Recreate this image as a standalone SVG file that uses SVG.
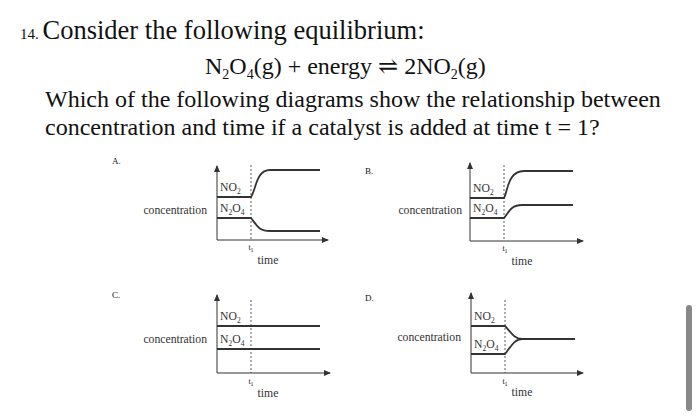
<svg xmlns="http://www.w3.org/2000/svg" width="700" height="416" viewBox="0 0 700 416">
<style>
text{font-family:"Liberation Serif","DejaVu Serif",serif;fill:#111}
.big{font-size:24px}
.s{font-size:11.7px;fill:#333}
.sub{font-size:7.5px}
.ax{stroke:#333;stroke-width:1;fill:none}
.dash{stroke:#333;stroke-width:0.8;stroke-dasharray:2,2;fill:none}
.ln{stroke:#333;stroke-width:1.8;fill:none}
</style>
<defs><marker id="ar" markerWidth="8" markerHeight="8" refX="6" refY="3" orient="auto" markerUnits="userSpaceOnUse"><path d="M0,0 L7,3 L0,6 Z" fill="#333"/></marker></defs>
<rect width="700" height="416" fill="#fff"/>
<text x="20" y="39" class="big" font-size="25.5"><tspan font-size="15">14. </tspan><tspan font-size="26.5">Consider the following equilibrium:</tspan></text>
<text x="205" y="74" class="big" font-size="24.5">N<tspan font-size="14" dy="5">2</tspan><tspan dy="-5">O</tspan><tspan font-size="14" dy="5">4</tspan><tspan dy="-5">(g) + energy </tspan><tspan>⇌</tspan> 2NO<tspan font-size="14" dy="5">2</tspan><tspan dy="-5">(g)</tspan></text>
<text x="45" y="107" class="big">Which of the following diagrams show the relationship between</text>
<text x="45" y="135" class="big">concentration and time if a catalyst is added at time t = 1?</text>
<g id="A">
<text x="112" y="164" font-size="9">A.</text>
<path class="ax" d="M217,240 V166" marker-end="url(#ar)"/><path class="ax" d="M217,240 H328" marker-end="url(#ar)"/>
<path class="dash" d="M251,165 V240"/>
<path class="ln" d="M217,197 H251 C256,190 256,170 270,170 H320"/>
<path class="ln" d="M217,218 H251 C256,224 258,231 270,231 H320"/>
<text x="220" y="191" class="s">NO<tspan class="sub" dy="3">2</tspan></text>
<text x="220" y="212" class="s">N<tspan class="sub" dy="3">2</tspan><tspan dy="-3">O</tspan><tspan class="sub" dy="3">4</tspan></text>
<text x="207" y="214" class="s" text-anchor="end">concentration</text>
<text x="251" y="250" font-size="8" fill="#333" text-anchor="middle">t<tspan font-size="6" dy="2">1</tspan></text>
<text x="268" y="264" class="s" text-anchor="middle">time</text>
</g>
<g id="B">
<text x="365" y="174" font-size="9">B.</text>
<path class="ax" d="M470,241 V163" marker-end="url(#ar)"/><path class="ax" d="M470,241 H583" marker-end="url(#ar)"/>
<path class="dash" d="M504,165 V241"/>
<path class="ln" d="M470,198 H504 C508,190 508,171 524,171 H573"/>
<path class="ln" d="M470,218 H504 C508,214 510,205 522,205 H573"/>
<text x="473" y="192" class="s">NO<tspan class="sub" dy="3">2</tspan></text>
<text x="473" y="212" class="s">N<tspan class="sub" dy="3">2</tspan><tspan dy="-3">O</tspan><tspan class="sub" dy="3">4</tspan></text>
<text x="462" y="214" class="s" text-anchor="end">concentration</text>
<text x="505" y="251" font-size="8" fill="#333" text-anchor="middle">t<tspan font-size="6" dy="2">1</tspan></text>
<text x="522" y="265" class="s" text-anchor="middle">time</text>
</g>
<g id="C">
<text x="112" y="298" font-size="9">C.</text>
<path class="ax" d="M217,373 V295" marker-end="url(#ar)"/><path class="ax" d="M217,373 H330" marker-end="url(#ar)"/>
<path class="dash" d="M251,300 V373"/>
<path class="ln" d="M217,326 H320"/>
<path class="ln" d="M217,349 H320"/>
<text x="220" y="320" class="s">NO<tspan class="sub" dy="3">2</tspan></text>
<text x="220" y="343" class="s">N<tspan class="sub" dy="3">2</tspan><tspan dy="-3">O</tspan><tspan class="sub" dy="3">4</tspan></text>
<text x="207" y="343" class="s" text-anchor="end">concentration</text>
<text x="251" y="384" font-size="8" fill="#333" text-anchor="middle">t<tspan font-size="6" dy="2">1</tspan></text>
<text x="268" y="397" class="s" text-anchor="middle">time</text>
</g>
<g id="D">
<text x="365" y="301" font-size="9">D.</text>
<path class="ax" d="M471,373 V293" marker-end="url(#ar)"/><path class="ax" d="M471,373 H583" marker-end="url(#ar)"/>
<path class="dash" d="M505,300 V373"/>
<path class="ln" d="M471,326 H505 C510,331 514,339 522,339 H575"/>
<path class="ln" d="M471,354 H505 C510,348 514,339 522,339"/>
<text x="474" y="320" class="s">NO<tspan class="sub" dy="3">2</tspan></text>
<text x="474" y="348" class="s">N<tspan class="sub" dy="3">2</tspan><tspan dy="-3">O</tspan><tspan class="sub" dy="3">4</tspan></text>
<text x="461" y="341" class="s" text-anchor="end">concentration</text>
<text x="505" y="384" font-size="8" fill="#333" text-anchor="middle">t<tspan font-size="6" dy="2">1</tspan></text>
<text x="522" y="396" class="s" text-anchor="middle">time</text>
</g>
<rect x="686" y="305" width="6" height="106" rx="3" fill="#888"/>
</svg>
